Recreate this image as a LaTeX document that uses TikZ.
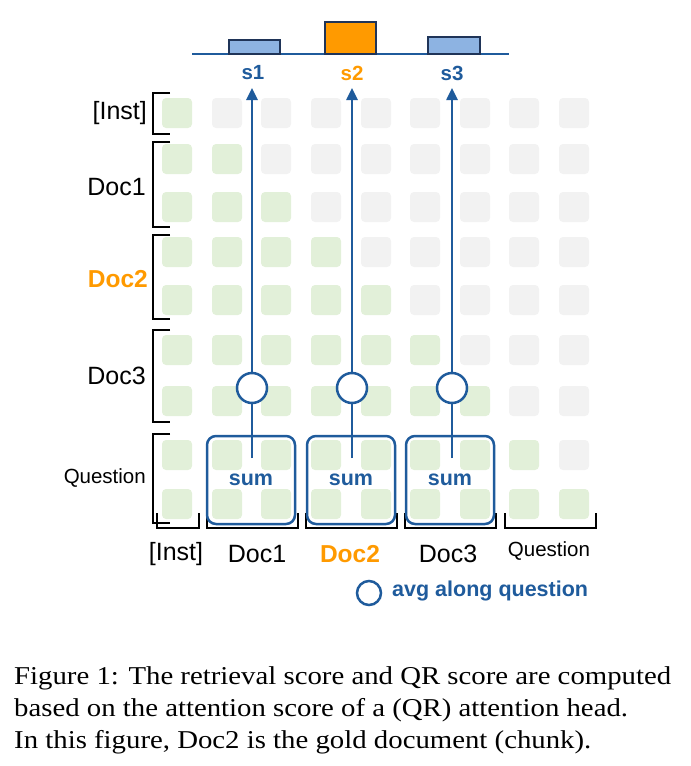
\documentclass[tikz,border=0pt]{standalone}
\usepackage{fontspec}
\usepackage{graphicx}
\setmainfont{Liberation Serif}
\newfontfamily\sfx{Liberation Sans}
\usetikzlibrary{arrows.meta}
\definecolor{cgreen}{HTML}{E2F0D9}
\definecolor{cgray}{HTML}{F2F2F2}
\definecolor{cblue}{HTML}{1F5B9C}
\definecolor{cnavy}{HTML}{1F3458}
\definecolor{clblue}{HTML}{8DB3E2}
\definecolor{corange}{HTML}{FF9A00}
\newcommand{\capline}[1]{\scalebox{1.12}[1]{#1}}
\tikzset{
  cellbox/.style={rectangle, rounded corners=4pt, minimum size=30pt, inner sep=0pt},
  sumbox/.style={draw=cblue, line width=2.5pt, rounded corners=9pt, minimum width=88pt, minimum height=88pt, inner sep=0pt, text=cblue, font=\sfx\bfseries\fontsize{21.5}{24}\selectfont},
  avgcirc/.style={circle, draw=cblue, fill=white, line width=2.5pt, minimum size=30pt, inner sep=0pt},
  flow/.style={cblue, line width=2.5pt},
  flowarrow/.style={cblue, line width=2.5pt, -{Triangle[width=11pt,length=12pt]}},
  brk/.style={black, line width=2pt},
  lab/.style={font=\sfx\fontsize{25}{28}\selectfont, inner sep=0pt},
  labq/.style={font=\sfx\fontsize{20.5}{24}\selectfont, inner sep=0pt},
  labgold/.style={font=\sfx\bfseries\fontsize{24.5}{28}\selectfont, text=corange, inner sep=0pt},
  score/.style={font=\sfx\bfseries\fontsize{20.5}{24}\selectfont, inner sep=0pt},
  bar/.style={draw=cnavy, line width=2.5pt},
  captext/.style={font=\fontsize{25.7}{30}\selectfont, anchor=base west, inner sep=0pt}
}
\begin{document}
\begin{tikzpicture}[x=1pt,y=-1pt]
\useasboundingbox (0,0) rectangle (691,766);
% grid of cells
\foreach \i/\yy in {1/113,2/159,3/207,4/252,5/300,6/350,7/401,8/455,9/504}{
  \foreach \j/\xx in {1/177,2/227,3/276,4/326,5/376,6/425,7/475,8/524,9/574}{
    \ifnum\j>\i
      \node[cellbox, fill=cgray] (c-\i-\j) at (\xx,\yy) {};
    \else
      \node[cellbox, fill=cgreen] (c-\i-\j) at (\xx,\yy) {};
    \fi
  }
}
% bar chart
\draw[cblue, line width=2pt] (192,54) -- (509,54);
\draw[bar, fill=clblue] (229,54) rectangle (280,40);
\draw[bar, fill=corange] (325,54) rectangle (376,22);
\draw[bar, fill=clblue] (428,54) rectangle (480,37);
\node[score, text=cblue] (s1) at (253,73) {s1};
\node[score, text=corange] (s2) at (352,73) {s2};
\node[score, text=cblue] (s3) at (452,73) {s3};
% left brackets
\draw[brk] (170,93) -- (153,93) -- (153,134) -- (170,134);
\draw[brk] (170,142) -- (153,142) -- (153,227) -- (170,227);
\draw[brk] (170,235) -- (153,235) -- (153,319) -- (170,319);
\draw[brk] (170,330) -- (153,330) -- (153,422) -- (170,422);
\draw[brk] (170,434) -- (153,434) -- (153,523) -- (170,523);
% bottom brackets
\draw[brk] (157,513) -- (157,528) -- (199,528) -- (199,513);
\draw[brk] (207,513) -- (207,528) -- (298,528) -- (298,513);
\draw[brk] (306,513) -- (306,528) -- (397,528) -- (397,513);
\draw[brk] (405,513) -- (405,528) -- (496,528) -- (496,513);
\draw[brk] (505,513) -- (505,528) -- (596,528) -- (596,513);
% left labels
\node[lab, anchor=east] (lInst) at (147,113) {[Inst]};
\node[lab, anchor=east] (lDoc1) at (146,187) {Doc1};
\node[labgold, anchor=east] (lDoc2) at (148,279) {Doc2};
\node[lab, anchor=east] (lDoc3) at (146,376) {Doc3};
\node[labq, anchor=east] (lQ) at (146,478) {Question};
% bottom labels
\node[lab] (bInst) at (176,554) {[Inst]};
\node[lab] (bDoc1) at (257,554) {Doc1};
\node[labgold] (bDoc2) at (350,554) {Doc2};
\node[lab] (bDoc3) at (448,554) {Doc3};
\node[labq] (bQ) at (549,551) {Question};
% sum boxes
\node[sumbox] (sum1) at (251,480) {sum};
\node[sumbox] (sum2) at (351,480) {sum};
\node[sumbox] (sum3) at (450,480) {sum};
% circles
\node[avgcirc] (a1) at (252,388) {};
\node[avgcirc] (a2) at (352,388) {};
\node[avgcirc] (a3) at (452,388) {};
\coordinate (f1) at (252,458);
\coordinate (f2) at (352,458);
\coordinate (f3) at (452,458);
\coordinate (t1) at (252,88);
\coordinate (t2) at (352,88);
\coordinate (t3) at (452,88);
\draw[flow] (f1) -- (a1.south);
\draw[flow] (f2) -- (a2.south);
\draw[flow] (f3) -- (a3.south);
\draw[flowarrow] (a1.north) -- (t1);
\draw[flowarrow] (a2.north) -- (t2);
\draw[flowarrow] (a3.north) -- (t3);
% legend
\node[avgcirc, minimum size=24pt] (leg) at (369,593) {};
\node[score, text=cblue, anchor=west, font=\sfx\bfseries\fontsize{21.5}{24}\selectfont] (legt) at (392,591) {avg along question};
% caption
\node[captext] (cap1) at (14,684) {\capline{Figure 1: The retrieval score and QR score are computed}};
\node[captext] (cap2) at (14,716) {\capline{based on the attention score of a (QR) attention head.}};
\node[captext] (cap3) at (14,748) {\capline{In this figure, Doc2 is the gold document (chunk).}};
\end{tikzpicture}
\end{document}
